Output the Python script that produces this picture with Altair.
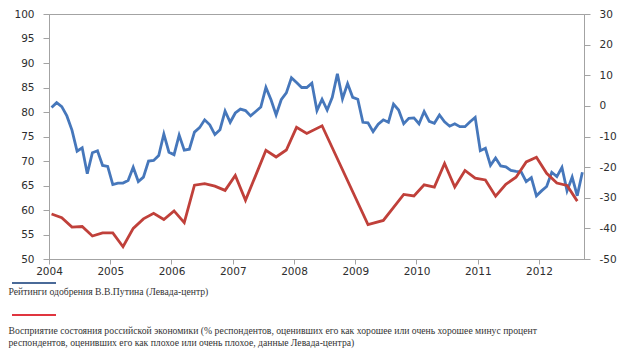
import altair as alt
import pandas as pd

# ---------------- data ----------------
# Putin approval rating (left axis), monthly from 2004-01
blue_start_year = 2004
blue_values = [
    80.9, 81.9, 81.1, 79.2, 76.3, 72.0, 72.7, 67.4, 71.7, 72.1, 69.1, 68.9,
    65.2, 65.5, 65.5, 66.0, 68.7, 65.8, 66.7, 70.0, 70.1, 71.1, 75.5, 71.8,
    71.3, 75.3, 72.2, 72.4, 75.9, 76.8, 78.4, 77.4, 75.4, 76.4, 80.2, 77.9,
    79.8, 80.6, 80.3, 79.2, 80.1, 81.0, 85.0, 82.5, 79.4, 82.5, 83.9, 87.0,
    86.0, 85.0, 85.0, 85.9, 80.3, 82.6, 80.4, 83.0, 87.8, 82.7, 85.8, 83.0,
    82.6, 77.9, 77.8, 76.0, 77.5, 78.4, 77.9, 81.6, 80.4, 77.6, 78.7, 78.8,
    77.6, 80.1, 78.1, 77.7, 79.4, 78.0, 77.1, 77.6, 77.0, 77.0, 78.0, 78.9,
    72.1, 72.6, 69.1, 70.6, 69.0, 68.8, 68.1, 67.9, 67.8, 65.8, 66.6, 62.9,
    63.9, 64.8, 67.7, 66.8, 68.7, 63.9, 66.7, 62.9, 67.7,
]

# Perception of the economy (right axis)
red_dates = [
    "2004-01", "2004-03", "2004-05", "2004-07", "2004-09", "2004-11",
    "2005-01", "2005-03", "2005-05", "2005-07", "2005-09", "2005-11",
    "2006-01", "2006-03", "2006-05", "2006-07", "2006-09", "2006-11",
    "2007-01", "2007-03", "2007-05", "2007-07", "2007-09", "2007-11",
    "2008-01", "2008-03", "2008-06", "2009-03", "2009-06", "2009-10",
    "2009-12", "2010-02", "2010-04", "2010-06", "2010-08", "2010-10",
    "2010-12", "2011-02", "2011-04", "2011-06", "2011-08", "2011-10",
    "2011-12", "2012-02", "2012-04", "2012-06", "2012-08",
]
red_values = [
    -35.3, -36.5, -39.6, -39.4, -42.5, -41.5,
    -41.5, -46.0, -40.0, -36.9, -35.1, -37.1,
    -34.3, -38.1, -25.9, -25.4, -26.2, -27.6,
    -22.7, -30.8, -22.7, -14.5, -16.7, -14.4,
    -7.0, -9.0, -6.5, -38.8, -37.4, -28.9,
    -29.4, -25.8, -26.5, -18.8, -26.5, -21.1,
    -23.6, -24.2, -29.5, -25.6, -23.3, -18.3,
    -16.8, -22.0, -25.2, -26.0, -31.1,
]

x_ticks = list(range(2004, 2013))
left_ticks = list(range(50, 101, 5))
right_ticks = list(range(-50, 31, 10))

legend_blue = "Рейтинги одобрения В.В.Путина (Левада-центр)"
legend_red_1 = ("Восприятие состояния российской экономики (% респондентов, "
                "оценивших его как хорошее или очень хорошее минус процент")
legend_red_2 = ("респондентов, оценивших его как плохое или очень плохое, "
                "данные Левада-центра)")


def ym_to_year(ym):
    y, m = ym.split("-")
    return int(y) + (int(m) - 0.5) / 12


blue_df = pd.DataFrame({
    "t": [blue_start_year + (i + 0.5) / 12 for i in range(len(blue_values))],
    "v": blue_values,
})
red_df = pd.DataFrame({"t": [ym_to_year(d) for d in red_dates], "v": red_values})

# ---------------- styling ----------------
FONT = "DejaVu Sans"
SERIF = "Liberation Serif"
GRAY = "#a3a3a3"
LABEL = "#2e2e2e"
BLUE = "#4677bb"
RED = "#c0403a"

W, H = 535, 245

x_enc = alt.X(
    "t:Q",
    scale=alt.Scale(domain=[2004, 2012.735], nice=False, zero=False),
    axis=alt.Axis(values=x_ticks, format="d", title=None, grid=False,
                  tickSize=5, labelPadding=2, labelFontSize=10.5,
                  labelFont=FONT, labelColor=LABEL, domainColor=GRAY,
                  tickColor=GRAY, labelFlush=False),
)

blue = alt.Chart(blue_df).mark_line(color=BLUE, strokeWidth=2.8).encode(
    x=x_enc,
    y=alt.Y(
        "v:Q",
        scale=alt.Scale(domain=[50, 100], nice=False, zero=False),
        axis=alt.Axis(orient="left", values=left_ticks, title=None, grid=False,
                      tickSize=6, labelPadding=9, labelFontSize=10.5,
                      labelFont=FONT, labelColor=LABEL, domainColor=GRAY,
                      tickColor=GRAY),
    ),
)

red = alt.Chart(red_df).mark_line(color=RED, strokeWidth=2.8).encode(
    x=alt.X("t:Q"),
    y=alt.Y(
        "v:Q",
        scale=alt.Scale(domain=[-50, 30], nice=False, zero=False),
        axis=alt.Axis(orient="right", values=right_ticks, title=None, grid=False,
                      tickSize=6, labelPadding=9, labelFontSize=10.5,
                      labelFont=FONT, labelColor=LABEL, domainColor=GRAY,
                      tickColor=GRAY, labelExpr="toString(datum.value)"),
    ),
)

one = pd.DataFrame({"k": [0]})

leg_blue_line = alt.Chart(one).mark_rule(color="#4a6a98", strokeWidth=2).encode(
    x=alt.value(-37), x2=alt.value(7), y=alt.value(269)
)
leg_red_line = alt.Chart(one).mark_rule(color="#e0353f", strokeWidth=2).encode(
    x=alt.value(-37), x2=alt.value(7), y=alt.value(301)
)


def legend_text(label, ypos):
    return alt.Chart(pd.DataFrame({"label": [label]})).mark_text(
        align="left", baseline="middle", font=SERIF, fontSize=9.7, color="#333333"
    ).encode(x=alt.value(-40.5), y=alt.value(ypos), text="label:N")


chart = alt.layer(
    blue, red,
    leg_blue_line, leg_red_line,
    legend_text(legend_blue, 278),
    legend_text(legend_red_1, 317),
    legend_text(legend_red_2, 329),
).resolve_scale(y="independent").properties(
    width=W, height=H,
    autosize=alt.AutoSizeParams(type="none"),
    padding={"left": 41, "top": 6, "right": 38, "bottom": 92},
    background="white",
).configure_view(stroke=GRAY, strokeWidth=1)

chart.save("out.html", embed_options={"renderer": "svg", "actions": False})
